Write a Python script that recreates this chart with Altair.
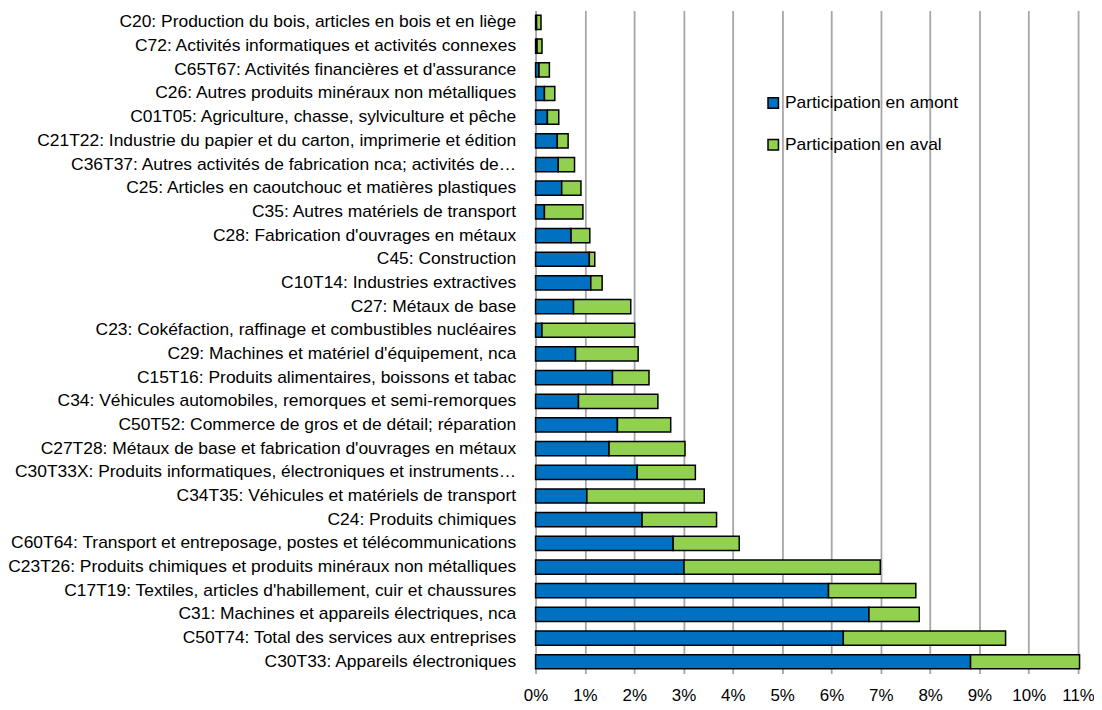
import altair as alt
import pandas as pd

categories = [
    "C20: Production du bois, articles en bois et en liège",
    "C72: Activités informatiques et activités connexes",
    "C65T67: Activités financières et d'assurance",
    "C26: Autres produits minéraux non métalliques",
    "C01T05: Agriculture, chasse, sylviculture et pêche",
    "C21T22: Industrie du papier et du carton, imprimerie et édition",
    "C36T37: Autres activités de fabrication nca; activités de…",
    "C25: Articles en caoutchouc et matières plastiques",
    "C35: Autres matériels de transport",
    "C28: Fabrication d'ouvrages en métaux",
    "C45: Construction",
    "C10T14: Industries extractives",
    "C27: Métaux de base",
    "C23: Cokéfaction, raffinage et combustibles nucléaires",
    "C29: Machines et matériel d'équipement, nca",
    "C15T16: Produits alimentaires, boissons et tabac",
    "C34: Véhicules automobiles, remorques et semi-remorques",
    "C50T52: Commerce de gros et de détail; réparation",
    "C27T28: Métaux de base et fabrication d'ouvrages en métaux",
    "C30T33X: Produits informatiques, électroniques et instruments…",
    "C34T35: Véhicules et matériels de transport",
    "C24: Produits chimiques",
    "C60T64: Transport et entreposage, postes et télécommunications",
    "C23T26: Produits chimiques et produits minéraux non métalliques",
    "C17T19: Textiles, articles d'habillement, cuir et chaussures",
    "C31: Machines et appareils électriques, nca",
    "C50T74: Total des services aux entreprises",
    "C30T33: Appareils électroniques",
]

amont = [0.02, 0.03, 0.07, 0.18, 0.24, 0.44, 0.46, 0.53, 0.18, 0.72,
         1.09, 1.12, 0.77, 0.13, 0.81, 1.56, 0.87, 1.66, 1.49, 2.06,
         1.04, 2.16, 2.79, 3.01, 5.94, 6.76, 6.24, 8.82]
total = [0.11, 0.13, 0.28, 0.39, 0.47, 0.66, 0.79, 0.92, 0.96, 1.10,
         1.20, 1.35, 1.93, 2.01, 2.08, 2.30, 2.48, 2.74, 3.03, 3.24,
         3.42, 3.67, 4.13, 6.99, 7.71, 7.78, 9.53, 11.03]
aval = [round(t - a, 2) for t, a in zip(total, amont)]

series = ["Participation en amont", "Participation en aval"]
colors = ["#0070C0", "#92D050"]
x_ticks = list(range(0, 12))

rows = []
for c, a, v in zip(categories, amont, aval):
    rows.append({"cat": c, "serie": series[0], "val": a, "ord": 0})
    rows.append({"cat": c, "serie": series[1], "val": v, "ord": 1})
df = pd.DataFrame(rows)

FONT = "Liberation Sans"
FS = 17.5

chart = alt.Chart(df).mark_bar(
    stroke="black", strokeWidth=1.5
).encode(
    y=alt.Y("cat:N", sort=categories, title=None,
            scale=alt.Scale(paddingInner=0.4, paddingOuter=0.2),
            axis=alt.Axis(labelLimit=0, labelFontSize=FS, labelFont=FONT,
                          labelColor="black", ticks=False, domain=False,
                          labelPadding=20)),
    x=alt.X("val:Q", stack="zero", title=None,
            scale=alt.Scale(domain=[0, 11], nice=False),
            axis=alt.Axis(values=x_ticks, labelExpr="datum.value + '%'",
                          labelFontSize=17, labelFont=FONT, labelColor="black",
                          labelFlush=False, labelOverlap=False,
                          ticks=False, domain=False, grid=True,
                          gridColor="#A6A6A6", gridWidth=1.8, labelPadding=14)),
    color=alt.Color("serie:N", scale=alt.Scale(domain=series, range=colors),
                    legend=alt.Legend(title=None, orient="none", legendX=230, legendY=84,
                                      symbolType="square", symbolSize=110,
                                      symbolStrokeColor="black", symbolStrokeWidth=1.5,
                                      labelFontSize=FS, labelFont=FONT, labelColor="black",
                                      labelLimit=0,
                                      labelOffset=3, rowPadding=23, symbolOpacity=1)),
    order=alt.Order("ord:Q"),
).properties(
    width=545, height=666,
    padding={"left": 530, "top": 1, "right": 16, "bottom": 45},
    autosize=alt.AutoSizeParams(type="none"),
).configure_view(stroke=None)

chart.save("out.html", embed_options={"renderer": "svg", "actions": False})
